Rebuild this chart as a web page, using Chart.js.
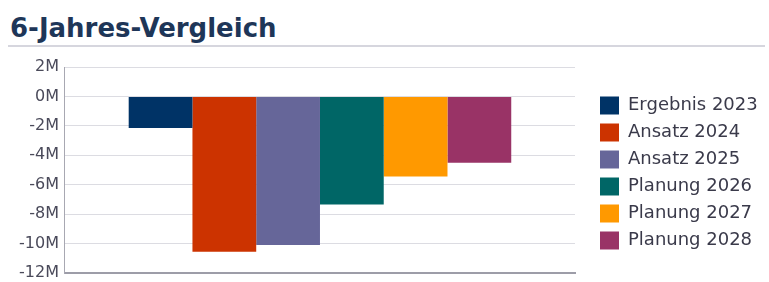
<!DOCTYPE html>
<html>
<head>
<meta charset="utf-8">
<script src="https://cdn.jsdelivr.net/npm/chart.js@4.4.1/dist/chart.umd.min.js"></script>
<style>
  html, body { margin: 0; padding: 0; background: #ffffff; }
  #wrap { position: relative; width: 769px; height: 282px; overflow: hidden; }
  #title { position: absolute; left: 10px; top: 13px; font-family: "DejaVu Sans", sans-serif; font-weight: bold; font-size: 26px; color: #1e3658; white-space: nowrap; }
  #rule { position: absolute; left: 8px; right: 4px; top: 45px; height: 2px; background: #d6d6de; }
  #c { position: absolute; left: 0; top: 0; }
</style>
</head>
<body>
<div id="wrap">
  <div id="title">6-Jahres-Vergleich</div>
  <div id="rule"></div>
  <canvas id="c" width="769" height="282"></canvas>
</div>
<script>
const categories = ['Gesamt'];
const seriesNames = ['Ergebnis 2023', 'Ansatz 2024', 'Ansatz 2025', 'Planung 2026', 'Planung 2027', 'Planung 2028'];
const seriesValues = [-2150000, -10550000, -10100000, -7350000, -5450000, -4500000];
const seriesColors = ['#003366', '#cc3300', '#666699', '#006666', '#ff9900', '#993366'];
const yTicks = [2000000, 0, -2000000, -4000000, -6000000, -8000000, -10000000, -12000000];

const datasets = seriesNames.map((name, i) => ({
  label: name,
  data: [seriesValues[i]],
  backgroundColor: seriesColors[i],
  borderWidth: 0,
  categoryPercentage: 0.75,
  barPercentage: 1.0
}));

const legendTweak = {
  id: 'legendTweak',
  beforeLayout(chart) {
    const lg = chart.legend;
    if (lg && !lg._patched) {
      const orig = lg.fit.bind(lg);
      lg.fit = function () { orig(); this.width = 194; };
      lg._patched = true;
    }
  },
  afterLayout(chart) {
    const lg = chart.legend;
    if (lg) { lg.left += 16; lg.right += 16; lg.top += 3; lg.bottom += 3; }
  }
};

new Chart(document.getElementById('c'), {
  type: 'bar',
  data: { labels: categories, datasets },
  plugins: [legendTweak],
  options: {
    responsive: false,
    animation: false,
    devicePixelRatio: 1,
    layout: { padding: { left: 13, top: 67, right: 0, bottom: 9 } },
    plugins: {
      title: { display: false },
      tooltip: { enabled: false },
      legend: {
        position: 'right',
        align: 'center',
        labels: {
          boxWidth: 19,
          boxHeight: 18,
          padding: 9,
          color: '#3a3a4a',
          font: { family: 'DejaVu Sans', size: 18 }
        }
      }
    },
    scales: {
      x: {
        display: true,
        grid: { display: false, drawTicks: false },
        ticks: { display: false, padding: 0 },
        border: { display: true, color: '#9d9da8', width: 2 },
        afterFit(scale) { scale.height = 0; scale.paddingTop = 0; scale.paddingBottom = 0; }
      },
      y: {
        min: -12000000,
        max: 2000000,
        afterBuildTicks(scale) { scale.ticks = yTicks.map(v => ({ value: v })); },
        afterFit(scale) { scale.paddingBottom = 0; scale.paddingTop = 0; },
        grid: { color: '#dcdce2', lineWidth: 1, drawTicks: false },
        border: { display: true, color: '#a8a8b2', width: 1 },
        ticks: {
          padding: 6,
          color: '#4a4a5a',
          font: { family: 'DejaVu Sans', size: 16 },
          callback: v => (v / 1000000) + 'M'
        }
      }
    }
  }
});
</script>
</body>
</html>
